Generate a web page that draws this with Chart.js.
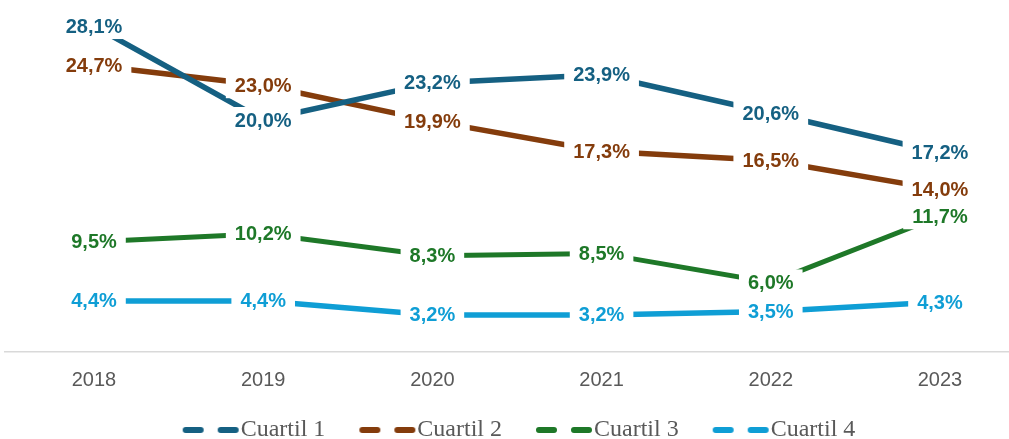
<!DOCTYPE html>
<html>
<head>
<meta charset="utf-8">
<script src="https://cdn.jsdelivr.net/npm/chart.js@4/dist/chart.umd.min.js"></script>
<style>
  body { margin: 0; background: #fff; }
  #wrap { width: 1009px; height: 439px; position: relative; }
</style>
</head>
<body>
<div id="wrap"><canvas id="myChart"></canvas></div>
<script>
var years = ['2018', '2019', '2020', '2021', '2022', '2023'];

var cuartil1 = [28.1, 20.0, 23.2, 23.9, 20.6, 17.2];
var cuartil2 = [24.7, 23.0, 19.9, 17.3, 16.5, 14.0];
var cuartil3 = [9.5, 10.2, 8.3, 8.5, 6.0, 11.7];
var cuartil4 = [4.4, 4.4, 3.2, 3.2, 3.5, 4.3];

var seriesNames = ['Cuartil 1', 'Cuartil 2', 'Cuartil 3', 'Cuartil 4'];
var seriesColors = ['#156082', '#843c0c', '#1e7828', '#0f9ed5'];

/**
  dashed marker for the legend, drawn once on a small canvas
*/
function makeMarker(color) {
  var c = document.createElement('canvas');
  c.width = 76;
  c.height = 10;
  var g = c.getContext('2d');
  g.strokeStyle = color;
  g.lineWidth = 6;
  g.lineCap = 'round';
  g.beginPath();
  g.moveTo(21, 5); g.lineTo(36, 5);
  g.moveTo(56, 5); g.lineTo(71, 5);
  g.stroke();
  return c;
}

function toPoints(values) {
  return values.map(function(v, i) { return { x: i, y: v }; });
}

function fmt(v) {
  return v.toFixed(1).replace('.', ',') + '%';
}

// white boxed value labels sitting on each point
var valueLabels = {
  id: 'valueLabels',
  afterDatasetsDraw: function(chart) {
    var ctx = chart.ctx;
    ctx.save();
    ctx.font = 'bold 20px "Liberation Sans", Arial, sans-serif';
    ctx.textAlign = 'center';
    ctx.textBaseline = 'middle';
    chart.data.datasets.forEach(function(ds, di) {
      var meta = chart.getDatasetMeta(di);
      meta.data.forEach(function(pt, i) {
        var txt = fmt(ds.data[i].y);
        var w = ctx.measureText(txt).width;
        ctx.fillStyle = '#ffffff';
        ctx.fillRect(pt.x - w / 2 - 9, pt.y - 13, w + 18, 26);
        ctx.fillStyle = ds.borderColor;
        ctx.fillText(txt, pt.x, pt.y + 1);
      });
    });
    ctx.restore();
  }
};

var allSeries = [cuartil1, cuartil2, cuartil3, cuartil4];
var widths = [5.5, 5.5, 5, 5.5];

var datasets = allSeries.map(function(vals, k) {
  return {
    label: seriesNames[k],
    data: toPoints(vals),
    borderColor: seriesColors[k],
    backgroundColor: seriesColors[k],
    borderWidth: widths[k],
    pointRadius: 0,
    pointStyle: makeMarker(seriesColors[k]),
    tension: 0,
    fill: false
  };
});

window.onload = function() {
  var ctx = document.getElementById('myChart').getContext('2d');
  var myChart = new Chart(ctx, {
    type: 'line',
    data: { datasets: datasets },
    plugins: [valueLabels],
    options: {
      responsive: true,
      maintainAspectRatio: false,
      animation: false,
      layout: { padding: { top: 4, left: 5, right: -18, bottom: -13 } },
      plugins: {
        tooltip: { enabled: false },
        legend: {
          position: 'bottom',
          labels: {
            usePointStyle: true,
            pointStyleWidth: 52,
            boxHeight: 10,
            padding: 28,
            color: '#595959',
            font: { family: '"Liberation Serif", serif', size: 24 }
          }
        }
      },
      scales: {
        x: {
          type: 'linear',
          min: -0.526,
          max: 5.408,
          afterBuildTicks: function(scale) {
            scale.ticks = years.map(function(y, i) { return { value: i }; });
          },
          afterFit: function(scale) {
            scale.height = 38;
          },
          grid: { display: false, drawTicks: false },
          border: { display: true, color: '#d9d9d9', width: 1.5 },
          ticks: {
            padding: 16,
            color: '#595959',
            font: { family: '"Liberation Sans", Arial, sans-serif', size: 20 },
            callback: function(v) { return years[v]; }
          }
        },
        y: {
          display: false,
          min: 0,
          max: 30
        }
      }
    }
  });
};
</script>
</body>
</html>
